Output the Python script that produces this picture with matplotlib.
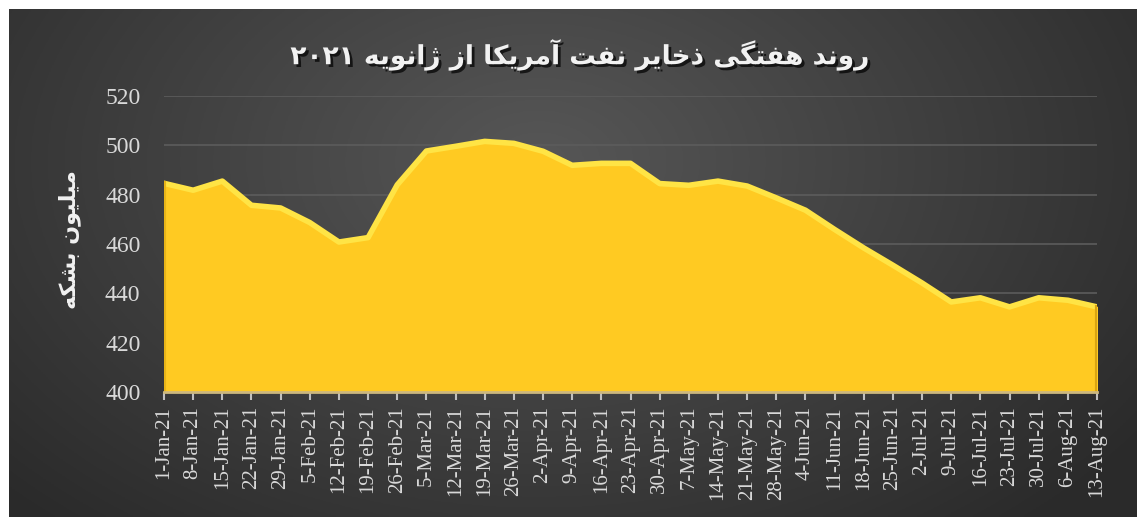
import matplotlib.pyplot as plt
import matplotlib.patheffects as pe
import numpy as np

dates = ["1-Jan-21", "8-Jan-21", "15-Jan-21", "22-Jan-21", "29-Jan-21",
         "5-Feb-21", "12-Feb-21", "19-Feb-21", "26-Feb-21",
         "5-Mar-21", "12-Mar-21", "19-Mar-21", "26-Mar-21",
         "2-Apr-21", "9-Apr-21", "16-Apr-21", "23-Apr-21", "30-Apr-21",
         "7-May-21", "14-May-21", "21-May-21", "28-May-21",
         "4-Jun-21", "11-Jun-21", "18-Jun-21", "25-Jun-21",
         "2-Jul-21", "9-Jul-21", "16-Jul-21", "23-Jul-21", "30-Jul-21",
         "6-Aug-21", "13-Aug-21"]
stocks = [484.6, 481.8, 485.5, 475.7, 474.6,
          468.7, 460.8, 462.6, 484.0,
          497.7, 499.6, 501.6, 500.8,
          497.6, 491.9, 492.7, 492.7, 484.5,
          483.8, 485.5, 483.5, 478.7,
          473.7, 465.9, 458.4, 451.4,
          444.2, 436.5, 438.2, 434.5, 438.2,
          437.2, 434.5]
y_ticks = [400, 420, 440, 460, 480, 500, 520]

title_fa = "روند هفتگی ذخایر نفت آمریکا از ژانویه ۲۰۲۱"
ylabel_fa = "میلیون بشکه"

# matplotlib does no arabic shaping, so map letters to presentation forms
# (isolated, final, initial, medial); None = letter does not join to the next one
FORMS = {
    "ا": ("\uFE8D", "\uFE8E", None, None),
    "آ": ("\uFE81", "\uFE82", None, None),
    "ب": ("\uFE8F", "\uFE90", "\uFE91", "\uFE92"),
    "ت": ("\uFE95", "\uFE96", "\uFE97", "\uFE98"),
    "خ": ("\uFEA5", "\uFEA6", "\uFEA7", "\uFEA8"),
    "د": ("\uFEA9", "\uFEAA", None, None),
    "ذ": ("\uFEAB", "\uFEAC", None, None),
    "ر": ("\uFEAD", "\uFEAE", None, None),
    "ز": ("\uFEAF", "\uFEB0", None, None),
    "ژ": ("\uFB8A", "\uFB8B", None, None),
    "ش": ("\uFEB5", "\uFEB6", "\uFEB7", "\uFEB8"),
    "ف": ("\uFED1", "\uFED2", "\uFED3", "\uFED4"),
    "ک": ("\uFB8E", "\uFB8F", "\uFB90", "\uFB91"),
    "گ": ("\uFB92", "\uFB93", "\uFB94", "\uFB95"),
    "ل": ("\uFEDD", "\uFEDE", "\uFEDF", "\uFEE0"),
    "م": ("\uFEE1", "\uFEE2", "\uFEE3", "\uFEE4"),
    "ن": ("\uFEE5", "\uFEE6", "\uFEE7", "\uFEE8"),
    "ه": ("\uFEE9", "\uFEEA", "\uFEEB", "\uFEEC"),
    "و": ("\uFEED", "\uFEEE", None, None),
    "ی": ("\uFBFC", "\uFBFD", "\uFBFE", "\uFBFF"),
}


def shape_word(w):
    out = []
    for i, c in enumerate(w):
        if c not in FORMS:
            out.append(c)
            continue
        prev = w[i - 1] if i > 0 else None
        nxt = w[i + 1] if i < len(w) - 1 else None
        jp = prev in FORMS and FORMS[prev][2] is not None
        jn = nxt in FORMS and FORMS[c][2] is not None
        if jp and jn:
            out.append(FORMS[c][3])
        elif jp:
            out.append(FORMS[c][1])
        elif jn:
            out.append(FORMS[c][2])
        else:
            out.append(FORMS[c][0])
    return "".join(reversed(out))


def rtl(text):
    words = []
    for w in text.split(" "):
        if w[0] in FORMS:
            words.append(shape_word(w))
        else:
            words.append(w)
    return " ".join(reversed(words))


fig = plt.figure(figsize=(11.37, 5.17), dpi=100, facecolor="white")

# dark radial background
bg = fig.add_axes([9 / 1137, 0, 1 - 9 / 1137, 1 - 9 / 517])
gx, gy = np.meshgrid(np.linspace(0, 1, 400), np.linspace(0, 1, 200))
r = np.sqrt(((gx - 0.47) / 0.75) ** 2 + ((gy - 0.3) / 1.1) ** 2)
shade = np.clip(0.34 - 0.20 * r, 0.165, 0.34)
bg.imshow(np.dstack([shade, shade, shade]), aspect="auto", extent=[0, 1, 1, 0])
bg.set_axis_off()

ax = fig.add_axes([164 / 1137, 125 / 517, 933 / 1137, 296 / 517])
ax.set_facecolor("none")
x = np.arange(len(dates))

ax.fill_between(x, 400, stocks, color="#FFCA22", zorder=2)
ax.plot(x, stocks, color="#FFE445", lw=4, solid_joinstyle="round", zorder=3)
ax.plot([0, 0], [400, stocks[0]], color="#E8B418", lw=3, zorder=3)
ax.plot([x[-1], x[-1]], [400, stocks[-1]], color="#D9A412", lw=3, zorder=3)

ax.set_xlim(0, len(dates) - 1)
ax.set_ylim(400, 520)
ax.set_yticks(y_ticks)
ax.yaxis.grid(True, color="#5c5c5c", lw=1.2)
ax.set_axisbelow(True)
ax.set_xticks(x)
ax.set_xticklabels(dates, rotation=90, fontsize=15, family="Liberation Serif", color="#d9d9d9")
ax.tick_params(axis="y", length=0, pad=17, labelsize=17, labelcolor="#d9d9d9")
for lab in ax.get_yticklabels():
    lab.set_family("Liberation Serif")
ax.tick_params(axis="x", length=6, width=1.5, color="#bfbfbf", pad=4)
for s in ["top", "right", "left"]:
    ax.spines[s].set_visible(False)
ax.spines["bottom"].set_color("#cdb87e")
ax.spines["bottom"].set_linewidth(2)
ax.spines["bottom"].set_zorder(4)

shadow = [pe.SimplePatchShadow(offset=(2, -2), shadow_rgbFace="black", alpha=0.7), pe.Normal()]
fig.text(580 / 1137, 1 - 55 / 517, rtl(title_fa), ha="center", va="center", fontsize=19,
         fontweight="bold", family="DejaVu Sans", color="#f2f2f2", path_effects=shadow)
fig.text(70 / 1137, 1 - 240 / 517, rtl(ylabel_fa), ha="center", va="center", rotation=90,
         fontsize=16, fontweight="bold", family="DejaVu Sans", color="#f2f2f2")

plt.savefig("out.png", dpi=100, facecolor="white")
